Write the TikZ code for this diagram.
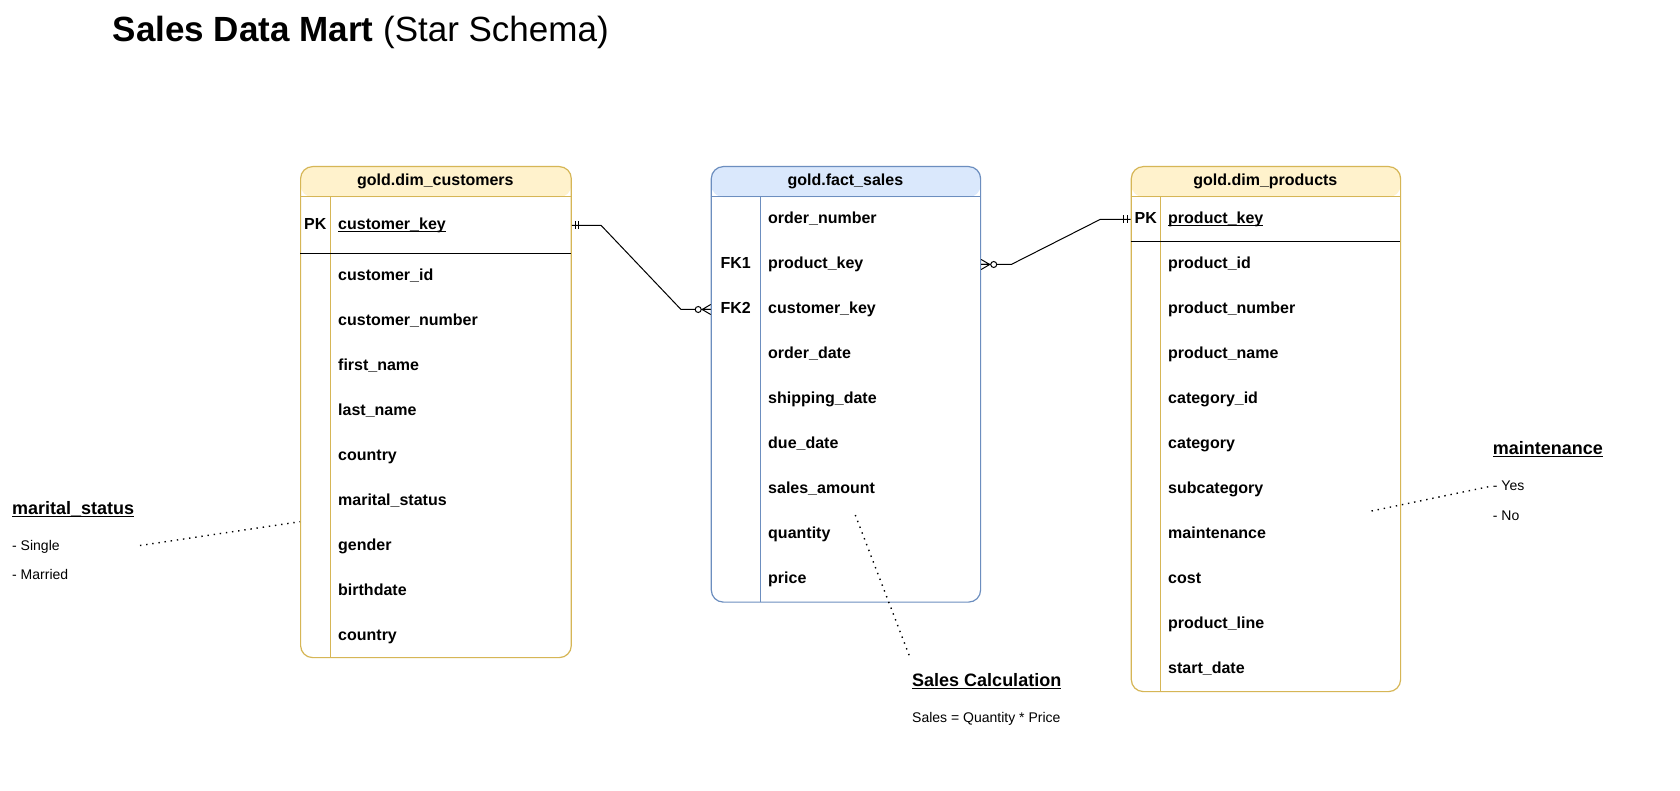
\documentclass[tikz,border=0pt]{standalone}
\usepackage{fontspec}
\setmainfont{Liberation Sans}
\usetikzlibrary{positioning, calc}
\usepackage{color}
\definecolor{dimfill}{HTML}{FFF2CC}
\definecolor{dimline}{HTML}{D6B656}
\definecolor{factfill}{HTML}{DAE8FC}
\definecolor{factline}{HTML}{6C8EBF}

\newlength\keyulwd
\newcommand{\keyul}[1]{\settowidth{\keyulwd}{#1}\rlap{\rule[-0.16em]{\keyulwd}{0.07em}}#1}

\begin{document}
\begin{tikzpicture}[x=1pt,y=-1pt,node distance=45pt,on grid,
    tbl/.style={draw,rounded corners=12pt,line width=1.2pt,inner sep=0pt,anchor=north west,
      path picture={\fill[#1] (path picture bounding box.north west)
        rectangle ([yshift=-30.5pt]path picture bounding box.north east);}},
    tblhead/.style={font=\fontsize{16}{19}\selectfont\bfseries,inner sep=0pt},
    field/.style={font=\fontsize{16}{19}\selectfont\bfseries,text width=220pt,align=left,
      text height=12pt,text depth=3.5pt,inner sep=0pt},
    keylbl/.style={font=\fontsize{16}{19}\selectfont\bfseries,inner sep=0pt,text height=12pt,text depth=3.5pt},
    notehead/.style={font=\fontsize{18}{21}\selectfont\bfseries,inner sep=0pt,anchor=west,
      text height=13.5pt,text depth=4pt},
    notetext/.style={font=\fontsize{14}{17}\selectfont,inner sep=0pt,anchor=west,
      text height=10.5pt,text depth=3pt},
    rel/.style={draw=black,line width=1pt},
    noteline/.style={draw=black,line width=1.4pt,dash pattern=on 1.4pt off 4.8pt},
    mandone/.pic={\draw[rel] (3.5,-4) -- (3.5,4) (7,-4) -- (7,4);},
    zeromany/.pic={\draw[rel] (0,-5) -- (-8.5,0) -- (0,5) (0,0) -- (-8.5,0);
      \draw[rel,fill=white] (-12.5,0) circle[radius=3pt];}]
  \path[use as bounding box,fill=white] (0,0) rectangle (1680,791);

  % Title
  \node[anchor=west,inner sep=0pt,font=\fontsize{35}{40}\selectfont,text height=25pt,text depth=0pt]
    (title) at (112.5,29.5) {\textbf{Sales Data Mart} (Star Schema)};

  % Tables
  \node[tbl=dimfill,draw=dimline,minimum width=270.7pt,minimum height=491pt] (cust) at (300,166) {};
  \node[tbl=factfill,draw=factline,minimum width=269.3pt,minimum height=435.5pt] (fact) at (710.7,166) {};
  \node[tbl=dimfill,draw=dimline,minimum width=269.3pt,minimum height=525pt] (prod) at (1130.7,166) {};
  \draw[dimline,line width=1.2pt] (300,196.5) -- (570.7,196.5) (330.7,196.5) -- (330.7,657);
  \draw[black,line width=1.2pt] (300,253.3) -- (570.7,253.3);
  \draw[factline,line width=1.2pt] (710.7,196.5) -- (980,196.5) (760.7,196.5) -- (760.7,601.5);
  \draw[dimline,line width=1.2pt] (1130.7,196.5) -- (1400,196.5) (1160.7,196.5) -- (1160.7,691);
  \draw[black,line width=1.2pt] (1130.7,241.3) -- (1400,241.3);

  % gold.dim_customers
  \node[tblhead] (custh) at (435.35,181) {gold.dim\_customers};
  \node[keylbl] (cpk) at (315.35,225.5) {PK};
  \node[field,anchor=west] (ckey) at (338,225.5) {\keyul{customer\_key}};
  \node[field,anchor=west] (cid) at (338,276) {customer\_id};
  \node[field,below=of cid] (cnum) {customer\_number};
  \node[field,below=of cnum] (cfirst) {first\_name};
  \node[field,below=of cfirst] (clast) {last\_name};
  \node[field,below=of clast] (ccountry) {country};
  \node[field,below=of ccountry] (cmarital) {marital\_status};
  \node[field,below=of cmarital] (cgender) {gender};
  \node[field,below=of cgender] (cbirth) {birthdate};
  \node[field,below=of cbirth] (ccountryb) {country};

  % gold.fact_sales
  \node[tblhead] (facth) at (845.35,181) {gold.fact\_sales};
  \node[field,anchor=west] (fnum) at (768,219.5) {order\_number};
  \node[field,below=of fnum] (fpkey) {product\_key};
  \node[field,below=of fpkey] (fckey) {customer\_key};
  \node[field,below=of fckey] (forder) {order\_date};
  \node[field,below=of forder] (fship) {shipping\_date};
  \node[field,below=of fship] (fdue) {due\_date};
  \node[field,below=of fdue] (famount) {sales\_amount};
  \node[field,below=of famount] (fqty) {quantity};
  \node[field,below=of fqty] (fprice) {price};
  \node[keylbl] (fk1) at (735.7,264.5) {FK1};
  \node[keylbl] (fk2) at (735.7,309.5) {FK2};

  % gold.dim_products
  \node[tblhead] (prodh) at (1265.35,181) {gold.dim\_products};
  \node[keylbl] (ppk) at (1145.7,219.5) {PK};
  \node[field,anchor=west] (pkey) at (1168,219.5) {\keyul{product\_key}};
  \node[field,anchor=west] (pid) at (1168,264) {product\_id};
  \node[field,below=of pid] (pnum) {product\_number};
  \node[field,below=of pnum] (pname) {product\_name};
  \node[field,below=of pname] (pcatid) {category\_id};
  \node[field,below=of pcatid] (pcat) {category};
  \node[field,below=of pcat] (psub) {subcategory};
  \node[field,below=of psub] (pmaint) {maintenance};
  \node[field,below=of pmaint] (pcost) {cost};
  \node[field,below=of pcost] (pline) {product\_line};
  \node[field,below=of pline] (pstart) {start\_date};

  % Relations
  \draw[rel] (cust.east |- ckey) -- ++(29.3,0) -- ($(fact.west |- fk2)+(-29.7,0)$) -- (fact.west |- fk2);
  \pic at (cust.east |- ckey) {mandone};
  \pic at (fact.west |- fk2) {zeromany};
  \draw[rel] (prod.west |- pkey) -- ++(-30.7,0) -- ($(fact.east |- fk1)+(30,0)$) -- (fact.east |- fk1);
  \pic[xscale=-1] at (prod.west |- pkey) {mandone};
  \pic[xscale=-1] at (fact.east |- fk1) {zeromany};

  % Notes
  \node[notehead] (msh) at (12,509.5) {\keyul{marital\_status}};
  \node[notetext] (ms1) at (12,546.5) {- Single};
  \node[notetext] (ms2) at (12,576) {- Married};
  \node[notehead] (mth) at (1492.7,449.5) {\keyul{maintenance}};
  \node[notetext] (mt1) at (1492.7,487) {- Yes};
  \node[notetext] (mt2) at (1492.7,516.5) {- No};
  \node[notehead] (sch) at (912,681.5) {\keyul{Sales Calculation}};
  \node[notetext] (sc1) at (912,718.5) {Sales = Quantity * Price};
  \coordinate (msa) at (140,545.5);
  \coordinate (msb) at (300,521.7);
  \coordinate (mta) at (1371.5,511);
  \coordinate (mtb) at (1492,486);
  \coordinate (sca) at (855.3,515);
  \coordinate (scb) at (910,657.5);
  \draw[noteline] (msa) -- (msb);
  \draw[noteline] (mta) -- (mtb);
  \draw[noteline] (sca) -- (scb);
\end{tikzpicture}
\end{document}
